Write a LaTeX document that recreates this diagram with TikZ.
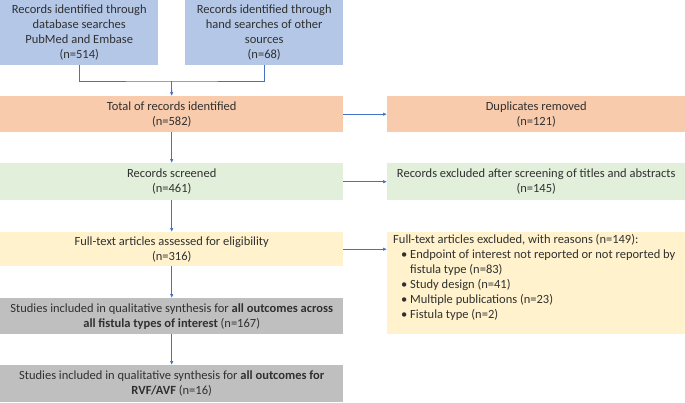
\documentclass[tikz,border=0pt]{standalone}
\usepackage{fontspec}
\setmainfont{Carlito}
\usetikzlibrary{arrows.meta}
\definecolor{cblue}{HTML}{B4C7E7}
\definecolor{corange}{HTML}{F8CBAD}
\definecolor{cgreen}{HTML}{E2EFDA}
\definecolor{cyellow}{HTML}{FFF2CC}
\definecolor{cgray}{HTML}{BFBFBF}
\definecolor{carrow}{HTML}{4472C4}
\definecolor{ctext}{HTML}{303030}
\begin{document}
\begin{tikzpicture}[x=1pt,y=-1pt,
  box/.style={anchor=north west, inner sep=0pt, align=center, text=ctext,
    font=\fontsize{12.5}{15}\selectfont},
  conn/.style={draw=carrow, line width=0.8pt},
  arr/.style={conn, -{Latex[length=4pt,width=3.5pt]}}]
\useasboundingbox (0,0) rectangle (685,402);
\node[box, fill=cblue, minimum width=158pt, minimum height=65pt] (b1) at (0,0)
  {Records identified through\\database searches\\PubMed and Embase\\(n=514)};
\node[box, fill=cblue, minimum width=158pt, minimum height=65pt] (b2) at (185,0)
  {Records identified through\\hand searches of other\\sources\\(n=68)};
\node[box, fill=corange, minimum width=343pt, minimum height=36pt] (tot) at (0,96)
  {Total of records identified\\(n=582)};
\node[box, fill=corange, minimum width=298pt, minimum height=36pt] (dup) at (387,96)
  {Duplicates removed\\(n=121)};
\node[box, fill=cgreen, minimum width=343pt, minimum height=37pt] (scr) at (0,163)
  {Records screened\\(n=461)};
\node[box, fill=cgreen, minimum width=298pt, minimum height=37pt] (rex) at (387,163)
  {Records excluded after screening of titles and abstracts\\(n=145)};
\node[box, fill=cyellow, minimum width=343pt, minimum height=34pt] (ft) at (0,232)
  {Full-text articles assessed for eligibility\\(n=316)};
\node[box, fill=cyellow, minimum width=298pt, minimum height=102pt] (fex) at (387,232) {};
\node[box, align=left, anchor=north west] (fext) at (393,234)
  {Full-text articles excluded, with reasons (n=149):\\
   \hspace*{8pt}\makebox[9pt][l]{•}Endpoint of interest not reported or not reported by\\
   \hspace*{17pt}fistula type (n=83)\\
   \hspace*{8pt}\makebox[9pt][l]{•}Study design (n=41)\\
   \hspace*{8pt}\makebox[9pt][l]{•}Multiple publications (n=23)\\
   \hspace*{8pt}\makebox[9pt][l]{•}Fistula type (n=2)};
\node[box, fill=cgray, minimum width=343pt, minimum height=36pt] (g1) at (0,298)
  {Studies included in qualitative synthesis for \textbf{all outcomes across}\\\textbf{all fistula types of interest} (n=167)};
\node[box, fill=cgray, minimum width=343pt, minimum height=37pt] (g2) at (0,365)
  {Studies included in qualitative synthesis for \textbf{all outcomes for}\\\textbf{RVF/AVF} (n=16)};
\coordinate (jn) at (171.5,81);
\draw[conn] (b1.south) |- (jn) -| (b2.south);
\draw[arr] (jn) -- (tot.north);
\draw[arr] (tot.south) -- (scr.north);
\draw[arr] (scr.south) -- (ft.north);
\draw[arr] (ft.south) -- (g1.north);
\draw[arr] (g1.south) -- (g2.north);
\draw[arr] (tot.east) -- (dup.west);
\draw[arr] (scr.east) -- (rex.west);
\draw[arr] (ft.east) -- (ft.east -| fex.west);
\end{tikzpicture}
\end{document}
